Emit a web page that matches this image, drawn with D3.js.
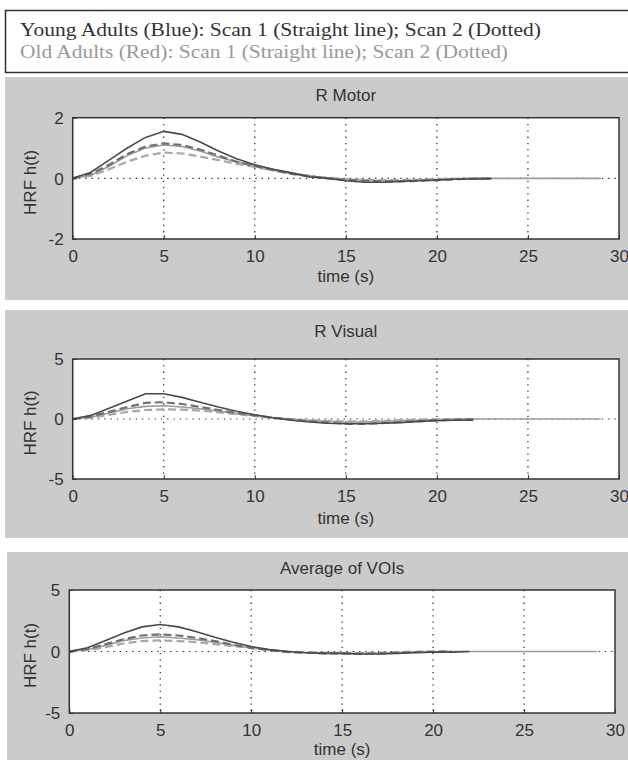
<!DOCTYPE html>
<html>
<head>
<meta charset="utf-8">
<script src="https://cdn.jsdelivr.net/npm/d3@7"></script>
<style>
  body { margin: 0; background: #fff; }
  svg { display: block; }
  .tick text { font-family: "Liberation Sans Narrow", "Liberation Sans", sans-serif; font-size: 17px; fill: #333; }
  .lbl { font-family: "Liberation Sans Narrow", "Liberation Sans", sans-serif; font-size: 17px; fill: #333; }
  .legend { font-family: "Liberation Serif", "DejaVu Serif", serif; font-size: 18px; }
</style>
</head>
<body>
<svg id="chart" width="628" height="760"></svg>
<script>
/* data (time in s, HRF h(t)) */
var legendLines = ["Young Adults (Blue): Scan 1 (Straight line); Scan 2 (Dotted)",
                   "Old Adults (Red): Scan 1 (Straight line); Scan 2 (Dotted)"];
var titles = ["R Motor", "R Visual", "Average of VOIs"];
var yTicks = [[-2, 0, 2], [-5, 0, 5], [-5, 0, 5]];
var xTicks = [0, 5, 10, 15, 20, 25, 30];
var time = [0,1,2,3,4,5,6,7,8,9,10,11,12,13,14,15,16,17,18,19,20,21,22,23,24,25,26,27,28,29];

// R Motor
var motorYoung1 = [0,0.2,0.6,1.0,1.35,1.55,1.45,1.2,0.9,0.65,0.45,0.3,0.18,0.05,0,-0.08,-0.13,-0.13,-0.1,-0.08,-0.06,-0.03,-0.02,-0.01];
var motorYoung2 = [0,0.15,0.45,0.8,1.05,1.15,1.1,0.95,0.75,0.55,0.4,0.27,0.15,0.07,0,-0.05,-0.08,-0.1,-0.1,-0.08,-0.05,-0.03,-0.01,0];
var motorOld1   = [0,0.1,0.4,0.75,1.0,1.1,1.05,0.9,0.7,0.55,0.42,0.3,0.18,0.08,0.02,-0.03,-0.06,-0.08,-0.08,-0.06,-0.04,-0.02,-0.01,0,0,0,0,0,0,0];
var motorOld2   = [0,0.08,0.3,0.55,0.75,0.85,0.82,0.72,0.6,0.48,0.38,0.27,0.17,0.08,0.02,-0.02,-0.05,-0.06,-0.05,-0.04,-0.02,-0.01,0,0];
// R Visual
var visualYoung1 = [0,0.3,0.9,1.5,2.1,2.1,1.8,1.4,1.0,0.65,0.35,0.1,-0.1,-0.25,-0.35,-0.4,-0.4,-0.35,-0.3,-0.2,-0.15,-0.1,-0.1];
var visualYoung2 = [0,0.2,0.6,1.0,1.35,1.4,1.25,1.0,0.75,0.5,0.3,0.1,-0.05,-0.2,-0.3,-0.4,-0.4,-0.35,-0.25,-0.2,-0.1,-0.05,0];
var visualOld1   = [0,0.15,0.5,0.85,1.05,1.1,1.0,0.85,0.65,0.45,0.25,0.1,0,-0.1,-0.2,-0.25,-0.25,-0.2,-0.15,-0.1,-0.05,-0.02,0,0,0,0,0,0,0,0];
var visualOld2   = [0,0.1,0.35,0.6,0.75,0.8,0.78,0.7,0.55,0.4,0.25,0.1,0,-0.1,-0.15,-0.2,-0.2,-0.15,-0.1,-0.05,-0.02,0,0];
// Average of VOIs
var avgYoung1 = [0,0.3,0.9,1.5,2.0,2.2,2.0,1.6,1.15,0.75,0.4,0.15,0,-0.1,-0.15,-0.15,-0.2,-0.2,-0.15,-0.1,-0.05,-0.05,0];
var avgYoung2 = [0,0.2,0.6,1.0,1.3,1.4,1.3,1.1,0.85,0.55,0.3,0.1,-0.05,-0.1,-0.15,-0.15,-0.2,-0.15,-0.1,-0.05,-0.02,0];
var avgOld1   = [0,0.15,0.5,0.9,1.1,1.2,1.1,0.95,0.75,0.5,0.3,0.12,0,-0.08,-0.12,-0.15,-0.15,-0.12,-0.08,-0.05,-0.02,0,0,0,0,0,0,0,0,0];
var avgOld2   = [0,0.1,0.35,0.65,0.85,0.9,0.85,0.75,0.6,0.45,0.28,0.12,0,-0.05,-0.1,-0.12,-0.12,-0.1,-0.06,-0.03,0,0];

var seriesStyle = [
  { color: "#4a4a4a", width: 1.6, dash: null },   // young scan 1
  { color: "#707070", width: 2.2, dash: "8,4" },  // young scan 2
  { color: "#9c9c9c", width: 1.6, dash: null },   // old scan 1
  { color: "#a8a8a8", width: 2.2, dash: "8,4" }   // old scan 2
];

var panels = [
  { bg: [5, 77, 623, 223],  plot: [72.7, 117.7, 619, 239], title: 95,  xl: 276, data: [motorOld1, motorOld2, motorYoung2, motorYoung1] },
  { bg: [5, 310, 623, 228], plot: [72.7, 359, 619, 479],   title: 331, xl: 518, data: [visualOld1, visualOld2, visualYoung2, visualYoung1] },
  { bg: [7, 552, 621, 208], plot: [69.3, 590, 615, 713],   title: 568, xl: 749, data: [avgOld1, avgOld2, avgYoung2, avgYoung1] }
];
var drawOrder = [2, 3, 1, 0]; // style index for each data entry above

var svg = d3.select("#chart");

/* legend box */
svg.append("rect")
  .attr("x", 5.5).attr("y", 10.5).attr("width", 640).attr("height", 62)
  .attr("fill", "#fff").attr("stroke", "#333").attr("stroke-width", 1.5);
svg.append("text").attr("class", "legend").attr("x", 20).attr("y", 36)
  .attr("fill", "#333").attr("textLength", 521).attr("lengthAdjust", "spacingAndGlyphs")
  .text(legendLines[0]);
svg.append("text").attr("class", "legend").attr("x", 20).attr("y", 58)
  .attr("fill", "#999").attr("textLength", 488).attr("lengthAdjust", "spacingAndGlyphs")
  .text(legendLines[1]);

panels.forEach(function (p, i) {
  svg.append("rect")
    .attr("x", p.bg[0]).attr("y", p.bg[1]).attr("width", p.bg[2]).attr("height", p.bg[3])
    .attr("fill", "#cbcbcb");

  var x0 = p.plot[0], y0 = p.plot[1], x1 = p.plot[2], y1 = p.plot[3];
  var w = x1 - x0, h = y1 - y0;
  var yt = yTicks[i];

  var xScale = d3.scaleLinear().domain([0, 30]).range([0, w]);
  var yScale = d3.scaleLinear().domain([yt[0], yt[2]]).range([h, 0]);

  var g = svg.append("g").attr("transform", "translate(" + x0 + "," + y0 + ")");

  g.append("rect").attr("width", w).attr("height", h).attr("fill", "#fff");

  // grid (dotted)
  g.append("g").attr("class", "grid")
    .selectAll("line").data(xTicks.slice(1, -1)).enter().append("line")
    .attr("x1", function (d) { return xScale(d); }).attr("x2", function (d) { return xScale(d); })
    .attr("y1", 0).attr("y2", h)
    .attr("stroke", "#222").attr("stroke-width", 1.2).attr("stroke-dasharray", "1.3,5");
  g.append("line")
    .attr("x1", 0).attr("x2", w).attr("y1", yScale(0)).attr("y2", yScale(0))
    .attr("stroke", "#222").attr("stroke-width", 1.2).attr("stroke-dasharray", "1.3,5");

  // curves
  var line = d3.line()
    .x(function (d, j) { return xScale(time[j]); })
    .y(function (d) { return yScale(d); });

  p.data.forEach(function (vals, k) {
    var s = seriesStyle[drawOrder[k]];
    g.append("path")
      .datum(vals)
      .attr("d", line)
      .attr("fill", "none")
      .attr("stroke", s.color)
      .attr("stroke-width", s.width)
      .attr("stroke-dasharray", s.dash);
  });

  // axes
  var plain = function (d) { return String(d); }; // ascii hyphen like matlab
  var xAxis = d3.axisBottom(xScale).tickValues(xTicks).tickFormat(plain).tickSize(-4).tickPadding(8);
  var yAxis = d3.axisLeft(yScale).tickValues(yt).tickFormat(plain).tickSize(-4).tickPadding(9);

  var xg = g.append("g").attr("transform", "translate(0," + h + ")").call(xAxis);
  var yg = g.append("g").call(yAxis);
  [xg, yg].forEach(function (a) {
    a.select(".domain").remove();
    a.selectAll(".tick line").attr("stroke", "#333");
  });
  xg.selectAll(".tick text").attr("dy", "0.9em");
  yg.selectAll(".tick text").attr("dy", "0.35em");

  g.append("rect").attr("width", w).attr("height", h)
    .attr("fill", "none").attr("stroke", "#333").attr("stroke-width", 1.5);

  // labels
  svg.append("text").attr("class", "lbl")
    .attr("x", x0 + w / 2).attr("y", p.title).attr("dy", "0.35em")
    .attr("text-anchor", "middle").text(titles[i]);
  svg.append("text").attr("class", "lbl")
    .attr("x", x0 + w / 2).attr("y", p.xl).attr("dy", "0.35em")
    .attr("text-anchor", "middle").text("time (s)");
  svg.append("text").attr("class", "lbl")
    .attr("transform", "translate(" + 30 + "," + (y0 + h / 2 + 4) + ") rotate(-90)")
    .attr("text-anchor", "middle").attr("dy", "0.35em").text("HRF h(t)");
});
</script>
</body>
</html>
